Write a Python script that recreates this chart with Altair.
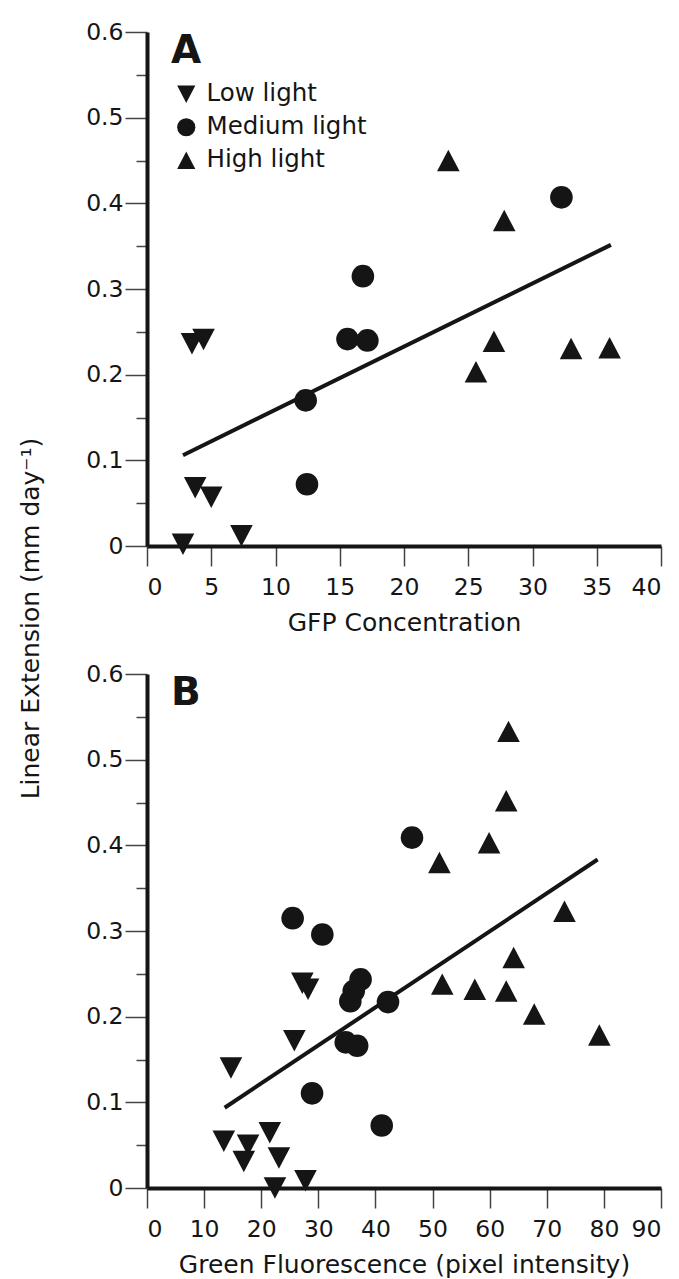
import altair as alt
import pandas as pd

# ---------------- data ----------------
categories = ["Low light", "Medium light", "High light"]

# Panel A : GFP concentration vs linear extension
a_low_x = [2.8, 3.75, 5.0, 7.35, 3.5, 4.4]
a_low_y = [0.002, 0.068, 0.057, 0.012, 0.236, 0.241]
a_med_x = [12.35, 12.45, 15.6, 17.15, 16.8, 32.25]
a_med_y = [0.170, 0.072, 0.2415, 0.240, 0.315, 0.407]
a_high_x = [23.45, 27.8, 25.6, 27.0, 33.0, 36.0]
a_high_y = [0.450, 0.380, 0.2035, 0.239, 0.2306, 0.2314]
a_fit_x = [2.8, 36.1]
a_fit_y = [0.106, 0.3515]

# Panel B : green fluorescence vs linear extension
b_low_x = [27.2, 28.2, 25.8, 14.7, 13.45, 17.7, 16.95, 21.5, 23.1, 22.4, 27.75]
b_low_y = [0.239, 0.232, 0.172, 0.140, 0.0545, 0.050, 0.031, 0.0646, 0.035, 0.0, 0.0085]
b_med_x = [25.5, 30.7, 46.4, 37.4, 36.2, 35.6, 42.2, 34.8, 36.8, 28.9, 41.1]
b_med_y = [0.315, 0.296, 0.409, 0.2435, 0.230, 0.218, 0.217, 0.170, 0.166, 0.1105, 0.073]
b_high_x = [63.3, 62.9, 59.9, 51.2, 73.1, 64.2, 51.7, 57.4, 62.9, 67.8, 79.2]
b_high_y = [0.533, 0.452, 0.403, 0.380, 0.323, 0.269, 0.238, 0.232, 0.230, 0.203, 0.1785]
b_fit_x = [13.6, 78.9]
b_fit_y = [0.0937, 0.3835]

y_ticks = [0.0, 0.05, 0.1, 0.15, 0.2, 0.25, 0.3, 0.35, 0.4, 0.45, 0.5, 0.55, 0.6]
a_x_ticks = [0, 5, 10, 15, 20, 25, 30, 35, 40]
b_x_ticks = [0, 10, 20, 30, 40, 50, 60, 70, 80, 90]

y_title = "Linear Extension (mm day\u207b\u00b9)"
a_x_title = "GFP Concentration"
b_x_title = "Green Fluorescence (pixel intensity)"

# ---------------- styling ----------------
FONT = "DejaVu Sans"
INK = "#151515"
W, H = 514, 514
TRI_DOWN = "M-1,-0.95L1,-0.95L0,0.95Z"
TRI_UP = "M0,-0.95L1,0.95L-1,0.95Z"
shape_scale = alt.Scale(domain=categories, range=[TRI_DOWN, "circle", TRI_UP])

MAJOR = "round(datum.value*20) % 2 == 0"


def points_df(lx, ly, mx, my, hx, hy):
    rows = []
    for cat, xs, ys in zip(categories, [lx, mx, hx], [ly, my, hy]):
        for xv, yv in zip(xs, ys):
            rows.append({"x": xv, "y": yv, "light": cat})
    return pd.DataFrame(rows)


def y_axis(with_title):
    kw = dict(
        values=y_ticks,
        labelExpr=f"{MAJOR} ? format(datum.value, '~g') : ''",
        tickSize={"condition": {"test": MAJOR, "value": 22}, "value": 11},
        tickColor="#444", tickWidth=1.5,
        domainColor=INK, domainWidth=4,
        labelFont=FONT, labelFontSize=23.5, labelColor=INK, labelPadding=2,
        grid=False,
    )
    if with_title:
        kw.update(title=y_title, titleFont=FONT, titleFontSize=25,
                  titleFontWeight="normal", titleColor=INK,
                  titleAngle=270, titleAlign="center", titleBaseline="alphabetic",
                  titleX=-109, titleY=586)
    else:
        kw.update(title=None)
    return alt.Axis(**kw)


def x_axis(ticks, title):
    return alt.Axis(
        values=ticks, format="d", title=title,
        tickSize=20, tickColor="#444", tickWidth=1.5,
        domainColor=INK, domainWidth=4,
        labelFont=FONT, labelFontSize=23.5, labelColor=INK, labelPadding=9,
        titleFont=FONT, titleFontSize=25, titleFontWeight="normal",
        titleColor=INK, titlePadding=12, grid=False,
    )


def panel(df, fit_x, fit_y, xmax, ticks, xtitle, letter, with_legend):
    xs = alt.Scale(domain=[0, xmax], nice=False, zero=True)
    ys = alt.Scale(domain=[0, 0.6], nice=False)
    if with_legend:
        legend = alt.Legend(
            orient="none", legendX=27, legendY=50, title=None, padding=0,
            labelFont=FONT, labelFontSize=24.5, labelColor=INK, labelOffset=8,
            labelLimit=0,
            symbolSize=330, symbolFillColor=INK, symbolStrokeWidth=0,
            rowPadding=8,
        )
    else:
        legend = None
    pts = alt.Chart(df).mark_point(filled=True, opacity=1, color=INK, size=510).encode(
        x=alt.X("x:Q", scale=xs, axis=x_axis(ticks, xtitle)),
        y=alt.Y("y:Q", scale=ys, axis=y_axis(with_legend)),
        shape=alt.Shape("light:N", scale=shape_scale, legend=legend),
    )
    fit = alt.Chart(pd.DataFrame({"x": fit_x, "y": fit_y})).mark_line(
        color=INK, strokeWidth=4
    ).encode(x=alt.X("x:Q", scale=xs), y=alt.Y("y:Q", scale=ys))
    lab = alt.Chart(pd.DataFrame({"t": [letter]})).mark_text(
        align="left", baseline="alphabetic", font=FONT, fontSize=39,
        fontWeight="bold", color=INK,
    ).encode(x=alt.value(24), y=alt.value(31), text="t:N")
    return alt.layer(pts, fit, lab).properties(width=W, height=H)


panel_a = panel(points_df(a_low_x, a_low_y, a_med_x, a_med_y, a_high_x, a_high_y),
                a_fit_x, a_fit_y, 40, a_x_ticks, a_x_title, "A", True)
panel_b = panel(points_df(b_low_x, b_low_y, b_med_x, b_med_y, b_high_x, b_high_y),
                b_fit_x, b_fit_y, 90, b_x_ticks, b_x_title, "B", False)

chart = (
    alt.vconcat(panel_a, panel_b, spacing=128, bounds="flush")
    .resolve_legend(shape="independent")
    .properties(padding={"left": 10, "top": 12, "right": 5, "bottom": 5},
                background="white")
    .configure_view(stroke=None)
)

chart.save("out.html", embed_options={"renderer": "svg", "actions": False})
